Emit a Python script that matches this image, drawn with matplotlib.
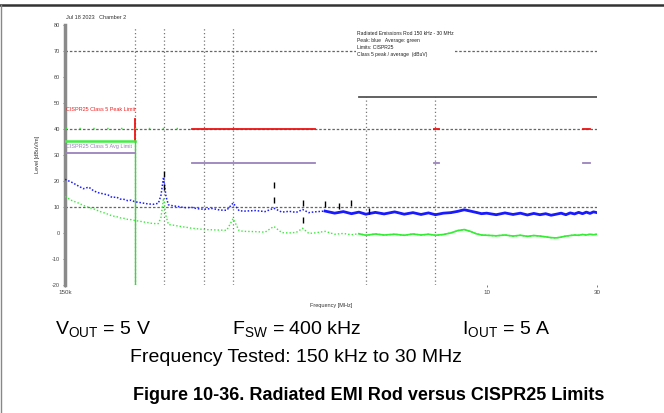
import numpy as np
import matplotlib.pyplot as plt
from matplotlib.lines import Line2D

plt.rcParams['font.family'] = ['Liberation Sans', 'DejaVu Sans']

# measured traces (MHz, dBuV)
peak_f = [0.15, 0.16, 0.17, 0.18, 0.19, 0.2, 0.21, 0.22, 0.23, 0.24, 0.25, 0.26, 0.27, 0.28,
          0.29, 0.3, 0.32, 0.34, 0.36, 0.38, 0.39, 0.4, 0.41, 0.42, 0.44, 0.46, 0.48, 0.5,
          0.53, 0.56, 0.6, 0.65, 0.7, 0.75, 0.8, 0.85, 0.9, 1.0, 1.1, 1.2, 1.3, 1.4, 1.5,
          1.6, 1.7, 1.8, 2.0, 2.2, 2.4, 2.6, 2.8, 3.0, 3.3, 3.6, 4.0, 4.4, 4.8, 5.2, 5.6,
          6.0, 6.5, 7.0, 7.5, 8.0, 8.5, 9.0, 9.5, 10, 11, 12, 13, 14, 15, 16, 17, 18, 19,
          20, 21, 22, 23, 24, 25, 26, 27, 28, 29, 30]
peak_db = [20.6, 19.5, 18.2, 17.0, 17.6, 16.1, 15.4, 15.0, 14.6, 13.6, 13.8, 13.0, 12.9, 12.4,
           12.6, 12.0, 11.6, 11.2, 11.0, 11.4, 14.5, 21.5, 14.0, 10.8, 10.4, 10.2, 9.9, 9.7,
           9.8, 9.3, 9.1, 9.4, 8.8, 8.7, 11.5, 8.5, 8.4, 8.6, 8.2, 9.5, 8.0, 8.3, 7.9,
           9.0, 7.8, 8.1, 8.4, 7.6, 8.2, 7.4, 8.0, 7.2, 7.9, 7.3, 8.1, 7.2, 7.8, 7.1, 7.7,
           7.0, 7.6, 7.8, 8.3, 8.9, 8.4, 7.9, 7.4, 7.6, 7.0, 7.7, 7.1, 7.6, 6.9, 7.5, 7.0, 7.4, 6.8,
           7.2, 7.6, 7.0, 7.7, 7.3, 7.9, 7.4, 8.0, 7.5, 8.1, 7.8]
avg_db = [14.0, 12.5, 11.6, 10.6, 9.8, 9.2, 8.4, 7.8, 7.2, 6.5, 6.3, 5.8, 5.6, 5.2,
          5.1, 4.8, 4.4, 4.0, 3.6, 3.6, 6.0, 13.5, 6.5, 3.2, 3.0, 2.7, 2.4, 2.2,
          1.8, 1.6, 1.3, 1.2, 1.1, 1.0, 5.5, 0.8, 0.6, 0.5, 0.3, 2.5, 0.1, 0.0, 0.2,
          1.8, -0.2, 0.0, 0.6, -0.5, -0.2, -0.7, -0.3, -0.9, -0.4, -0.8, -0.5, -0.9, -0.4, -0.8, -0.5,
          -0.9, -0.6, 0.0, 0.9, 1.3, 0.6, -0.3, -0.8, -0.9, -1.1, -0.8, -1.2, -0.9, -1.3, -1.0, -1.2, -1.5, -1.8,
          -1.9, -1.6, -1.2, -1.0, -0.8, -0.9, -0.6, -0.8, -0.5, -0.7, -0.5]

# marker readings
mark_f = [0.4, 0.4, 1.2, 1.2, 1.6, 1.6, 2.0, 2.3, 2.6, 3.1]
mark_db = [22.5, 17.5, 18.5, 12.5, 11.5, 5.0, 11.0, 10.5, 11.5, 8.5]

# limit lines
peak_lim_f = [[0.53, 1.8], [5.9, 6.2], [26, 28]]
peak_lim_db = 40
avg_lim_f = [[0.53, 1.8], [5.9, 6.2], [26, 28]]
avg_lim_db = 27
lw_peak_db = [35.4, 43.8]
lw_avg_db = 30.8
upper_f = [2.8, 30]
upper_db = 52.3
band_f = [0.3, 0.4, 0.6, 0.8]
band2_f = [3.0, 6.0]
grid_db = [70, 40, 10]
yticks = [-20, -10, 0, 10, 20, 30, 40, 50, 60, 70, 80]

fig = plt.figure(figsize=(6.64, 4.13), dpi=100)
ax = fig.add_axes([0.098, 0.310, 0.801, 0.630])
ax.set_xscale('log')
ax.set_xlim(0.15, 30)
ax.set_ylim(-20, 80)

for s in ['top', 'right', 'bottom']:
    ax.spines[s].set_visible(False)
ax.spines['left'].set_color('#8a8a8a')
ax.spines['left'].set_linewidth(2.5)

ax.set_yticks(yticks)
ax.set_yticklabels([str(v) for v in yticks], fontsize=4, color='#444444')
ax.set_xticks([0.15, 10, 30])
ax.set_xticklabels(['150k', '10', '30'], fontsize=4.5, color='#444444')
ax.xaxis.set_minor_locator(plt.NullLocator())
ax.tick_params(axis='both', length=1.5, width=0.6, color='#666666', pad=2)

# grid
for g in grid_db:
    ax.axhline(g, color='#666666', lw=0.9, ls=(0, (2, 1.5)), zorder=1)
for f in band_f:
    ax.plot([f, f], [-20, 79], color='#777777', lw=0.9, ls=(0, (1, 2)), zorder=1)
for f in band2_f:
    ax.plot([f, f], [-20, upper_db], color='#777777', lw=0.9, ls=(0, (1, 2)), zorder=1)

# limits
for seg in peak_lim_f:
    ax.plot(seg, [peak_lim_db] * 2, color='#ee1111', lw=1.3, zorder=3)
for seg in avg_lim_f:
    ax.plot(seg, [avg_lim_db] * 2, color='#9b82bb', lw=1.3, zorder=3)
ax.plot([0.3, 0.3], lw_peak_db, color='#ee1111', lw=1.3, zorder=3)
ax.plot([0.15, 0.3], [lw_peak_db[0]] * 2, color='#44ee44', lw=1.8, zorder=3)
ax.plot([0.3, 0.3], [-20, lw_peak_db[0]], color='#33dd33', lw=1.0, zorder=3)
ax.plot([0.15, 0.3], [lw_avg_db] * 2, color='#9b82bb', lw=1.3, zorder=3)
ax.plot(upper_f, [upper_db] * 2, color='#555555', lw=1.3, zorder=3)
ax.plot([0.15, 0.5], [40.5, 40.5], color='#33dd33', lw=1.0, ls=(0, (1, 9)), zorder=3)

# traces
ax.plot(peak_f, peak_db, color='#1a1aff', lw=1.1, ls=(0, (1, 1.2)), zorder=4)
ax.plot(peak_f[46:], peak_db[46:], color='#1a1aff', lw=2.0, zorder=4)
ax.plot(peak_f, avg_db, color='#33ee33', lw=1.0, ls=(0, (1, 1.5)), zorder=4)
ax.plot(peak_f[50:], avg_db[50:], color='#33ee33', lw=1.2, zorder=4)
ax.scatter(mark_f, mark_db, marker='|', s=14, color='black', lw=1.0, zorder=5)

# in-plot annotations
ax.text(0.152, 47.5, 'CISPR25 Class 5 Peak Limit', fontsize=4, color='#ee2222', va='center')
ax.text(0.152, 33.3, 'CISPR25 Class 5 Avg Limit', fontsize=4, color='#9b82bb', va='center')
ax.text(2.75, 72.5, 'Radiated Emissions Rod 150 kHz - 30 MHz\nPeak: blue   Average: green\nLimits: CISPR25\nClass 5 peak / average  (dBuV)',
        fontsize=3.6, color='#222222', va='center', linespacing=1.5,
        bbox=dict(facecolor='white', edgecolor='none', pad=1))
ax.text(0.152, 82, 'Jul 18 2023   Chamber 2', fontsize=4, color='#333333', va='bottom')
ax.set_ylabel('Level [dBuV/m]', fontsize=4, color='#333333', labelpad=9)
ax.set_xlabel('Frequency [MHz]', fontsize=4, color='#333333', labelpad=6)

# outer frame
fig.add_artist(Line2D([0, 1], [0.988, 0.988], color='#333333', lw=1.8))
fig.add_artist(Line2D([0.002, 0.002], [0, 0.988], color='#888888', lw=1.0))

# conditions text
fig.text(55 / 664, 1 - 330 / 413, r'V$_{\mathregular{OUT}}$ = 5 V', fontsize=14, va='center', ha='left')
fig.text(232 / 664, 1 - 330 / 413, r'F$_{\mathregular{SW}}$ = 400 kHz', fontsize=14, va='center', ha='left')
fig.text(462 / 664, 1 - 330 / 413, r'I$_{\mathregular{OUT}}$ = 5 A', fontsize=14, va='center', ha='left')
fig.text(296 / 664, 1 - 357 / 413, 'Frequency Tested: 150 kHz to 30 MHz', fontsize=14, va='center', ha='center')
fig.text(369 / 664, 1 - 395 / 413, 'Figure 10-36. Radiated EMI Rod versus CISPR25 Limits', fontsize=13,
         fontweight='bold', va='center', ha='center')

fig.savefig('out.png', dpi=100)
